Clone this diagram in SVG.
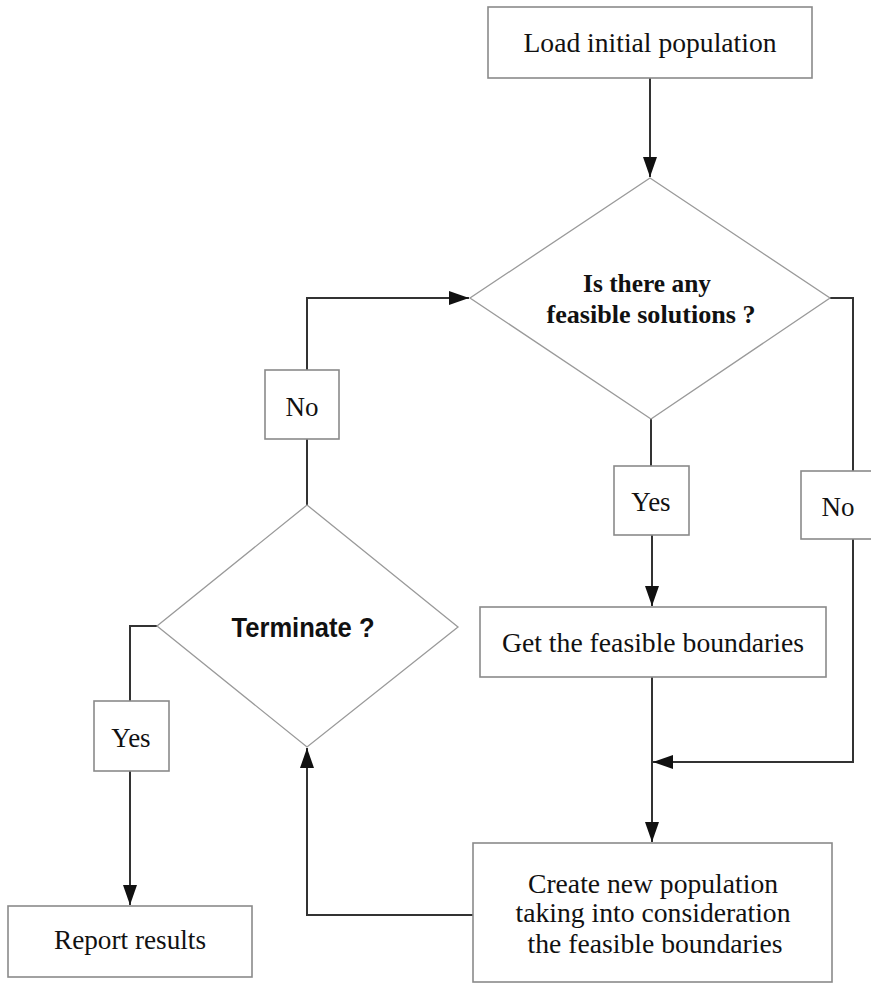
<svg xmlns="http://www.w3.org/2000/svg" width="871" height="985" viewBox="0 0 871 985">
<style>
.box{fill:#fff;stroke:#8a8a8a;stroke-width:1.6}
.dia{fill:#fff;stroke:#9a9a9a;stroke-width:1.3}
.lbl{font-family:"Liberation Serif","Times New Roman",serif;font-size:28px;fill:#111;text-anchor:middle}
.yn{font-family:"Liberation Serif","Times New Roman",serif;font-size:27px;fill:#111;text-anchor:middle}
.q{font-family:"Liberation Serif","Times New Roman",serif;font-size:26px;font-weight:bold;fill:#111;text-anchor:middle}
.qs{font-family:"Liberation Sans",Arial,sans-serif;font-size:27px;font-weight:bold;fill:#111;text-anchor:middle}
.c{fill:none;stroke:#333;stroke-width:2}
</style>
<defs>
<marker id="ah" markerUnits="userSpaceOnUse" markerWidth="20" markerHeight="14" refX="20" refY="7" orient="auto">
<path d="M0,0 L20,7 L0,14 z" fill="#111"/>
</marker>
</defs>
<rect width="871" height="985" fill="#fff"/>
<g id="connectors">
<path class="c" d="M650,78 V177" marker-end="url(#ah)"/>
<path class="c" d="M651,419 V466"/>
<path class="c" d="M652,535 V606" marker-end="url(#ah)"/>
<path class="c" d="M652,677 V842" marker-end="url(#ah)"/>
<path class="c" d="M830,298 H853 V471"/>
<path class="c" d="M853,539 V762 H653" marker-end="url(#ah)"/>
<path class="c" d="M307,505 V439"/>
<path class="c" d="M307,370 V298 H469" marker-end="url(#ah)"/>
<path class="c" d="M473,915 H307 V748" marker-end="url(#ah)"/>
<path class="c" d="M157,626 H130 V701"/>
<path class="c" d="M130,771 V905" marker-end="url(#ah)"/>
</g>
<g id="load">
<rect class="box" x="488" y="7" width="324" height="71"/>
<text class="lbl" x="650" y="52" textLength="253" lengthAdjust="spacingAndGlyphs">Load initial population</text>
</g>
<g id="feasible">
<polygon class="dia" points="650,178 830,298 651,419 470,298"/>
<text class="q" x="647" y="292" textLength="128" lengthAdjust="spacingAndGlyphs">Is there any</text>
<text class="q" x="651" y="323" textLength="209" lengthAdjust="spacingAndGlyphs">feasible solutions ?</text>
</g>
<g id="yes1">
<rect class="box" x="614" y="466" width="75" height="69"/>
<text class="yn" x="651" y="511">Yes</text>
</g>
<g id="no1">
<rect class="box" x="801" y="471" width="74" height="68"/>
<text class="yn" x="838" y="516">No</text>
</g>
<g id="getbounds">
<rect class="box" x="480" y="607" width="346" height="70"/>
<text class="lbl" x="653" y="652" textLength="302" lengthAdjust="spacingAndGlyphs">Get the feasible boundaries</text>
</g>
<g id="create">
<rect class="box" x="473" y="843" width="359" height="139"/>
<text class="lbl" x="653" y="893" textLength="250" lengthAdjust="spacingAndGlyphs">Create new population</text>
<text class="lbl" x="653" y="922" textLength="275" lengthAdjust="spacingAndGlyphs">taking into consideration</text>
<text class="lbl" x="655" y="953" textLength="255" lengthAdjust="spacingAndGlyphs">the feasible boundaries</text>
</g>
<g id="no2">
<rect class="box" x="265" y="370" width="74" height="69"/>
<text class="yn" x="302" y="416">No</text>
</g>
<g id="terminate">
<polygon class="dia" points="307,505 458,627 307,747 157,626"/>
<text class="qs" x="303" y="637" textLength="143" lengthAdjust="spacingAndGlyphs">Terminate ?</text>
</g>
<g id="yes2">
<rect class="box" x="94" y="701" width="75" height="70"/>
<text class="yn" x="131" y="747">Yes</text>
</g>
<g id="report">
<rect class="box" x="8" y="906" width="244" height="71"/>
<text class="lbl" x="130" y="949" textLength="152" lengthAdjust="spacingAndGlyphs">Report results</text>
</g>
</svg>
